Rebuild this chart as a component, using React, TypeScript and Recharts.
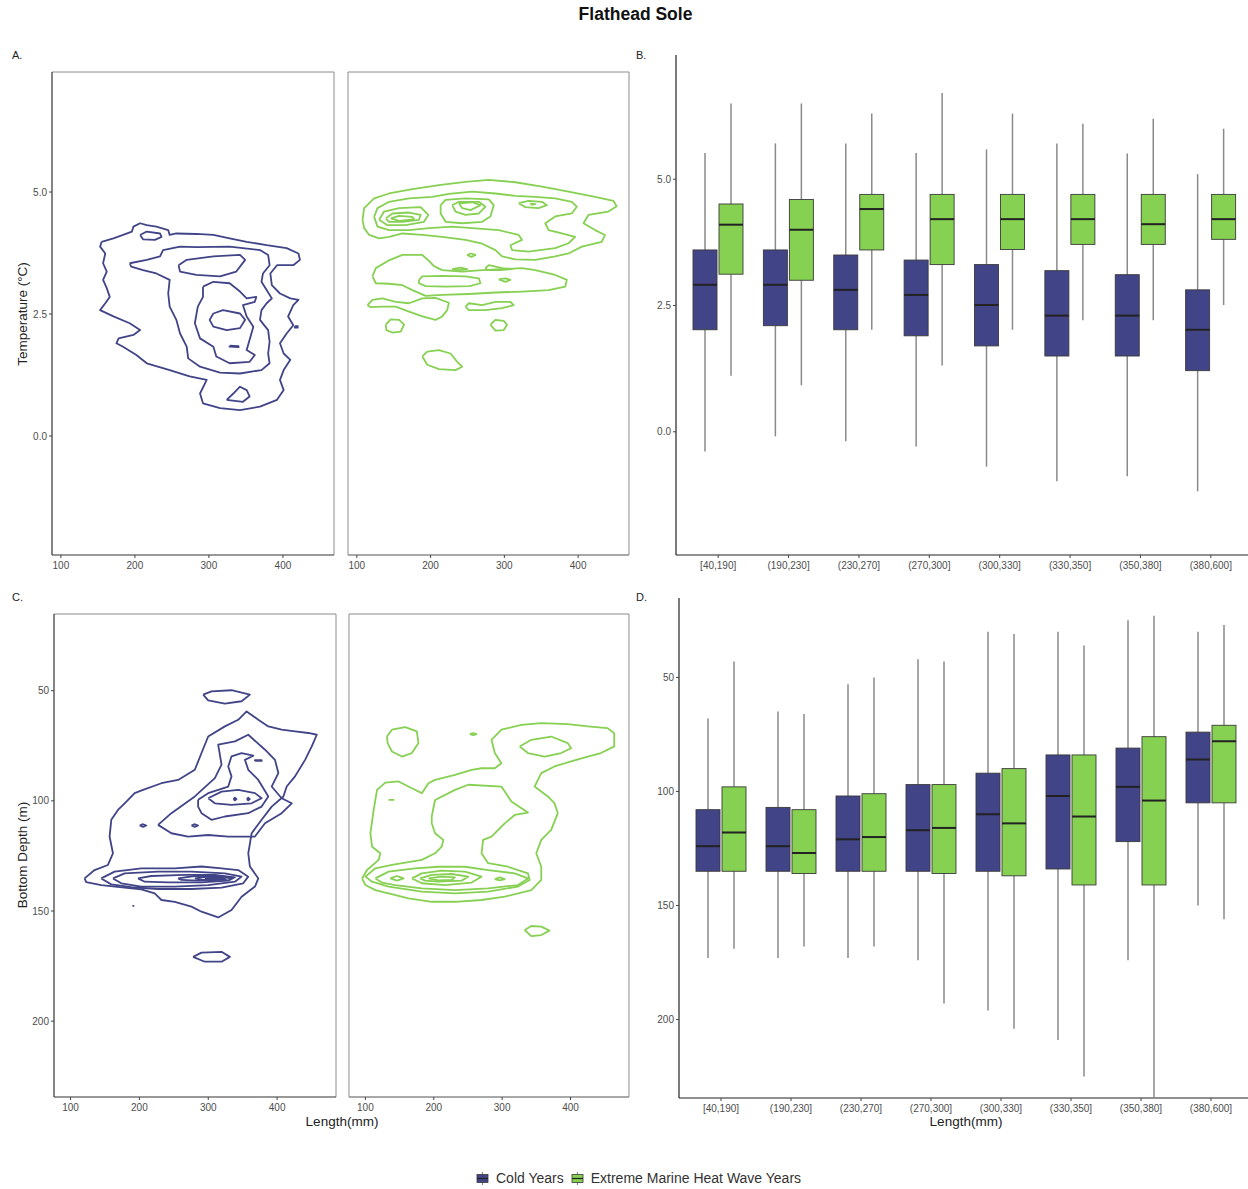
import React from 'react';
import { ComposedChart, Line, Bar, XAxis, YAxis, ReferenceLine } from 'recharts';

type Pt = [number, number];
type Box = [number, number, number, number, number]; // min, q1, median, q3, max

const BLUE = '#414487';
const GREEN = '#86D052';
const FONT = '"Liberation Sans", Arial, Helvetica, sans-serif';

const lengthTicks = [100, 200, 300, 400];
const tempTicks = [0, 2.5, 5];
const depthTicks = [50, 100, 150, 200];
const lengthBins = ['[40,190]', '(190,230]', '(230,270]', '(270,300]', '(300,330]', '(330,350]', '(350,380]', '(380,600]'];

const tempDomain: [number, number] = [-2.44, 7.46];
const depthDomain: [number, number] = [15.2, 234.4];
const lenDomainA: [number, number] = [88, 469];
const lenDomainC: [number, number] = [76, 485.5];

// ---- Panel A: temperature vs length density contours ----
const coldTempContours: Pt[][] = [
  [[155,3.98],[171,4.05],[184,4.12],[196,4.19],[198,4.29],[207,4.36],[216,4.32],[229,4.29],[245,4.22],[247,4.12],[256,4.15],[283,4.14],[306,4.12],[328,4.05],[351,3.98],[378,3.91],[405,3.85],[421,3.74],[423,3.61],[414,3.5],[392,3.5],[383,3.33],[385,3.09],[396,2.92],[410,2.82],[421,2.79],[414,2.68],[407,2.45],[414,2.27],[405,2.1],[396,1.9],[401,1.69],[410,1.56],[401,1.35],[396,1.15],[401,0.94],[392,0.74],[369,0.6],[342,0.53],[315,0.57],[292,0.67],[288,0.87],[297,1.15],[274,1.22],[247,1.35],[216,1.49],[202,1.66],[184,1.83],[175,1.9],[178,2.0],[198,2.07],[207,2.17],[193,2.31],[171,2.45],[153,2.58],[160,2.72],[166,2.85],[162,3.03],[157,3.2],[162,3.37],[157,3.54],[160,3.74],[153,3.88]],
  [[193,3.54],[216,3.61],[234,3.68],[238,3.81],[261,3.88],[283,3.87],[328,3.88],[369,3.81],[380,3.71],[382,3.5],[373,3.33],[371,3.16],[378,2.99],[385,2.82],[378,2.72],[371,2.58],[369,2.38],[380,2.17],[382,1.93],[380,1.69],[382,1.49],[371,1.35],[342,1.28],[315,1.3],[288,1.42],[272,1.59],[270,1.83],[261,2.1],[256,2.38],[247,2.65],[245,2.92],[247,3.2],[229,3.33],[211,3.4],[195,3.47]],
  [[259,3.5],[270,3.61],[306,3.68],[342,3.71],[349,3.61],[337,3.37],[315,3.27],[283,3.3],[261,3.37]],
  [[292,3.06],[306,3.16],[328,3.13],[342,2.96],[351,2.82],[364,2.85],[362,2.75],[346,2.68],[351,2.45],[360,2.24],[355,1.97],[351,1.76],[362,1.66],[355,1.52],[328,1.49],[310,1.63],[306,1.83],[288,2.0],[281,2.31],[285,2.65],[292,2.85]],
  [[306,2.51],[319,2.58],[342,2.51],[349,2.38],[342,2.21],[324,2.17],[306,2.24],[301,2.38]],
  [[207,4.12],[216,4.19],[234,4.15],[236,4.08],[227,4.02],[211,4.03]],
  [[324,0.74],[333,0.87],[342,1.01],[351,0.94],[355,0.81],[346,0.7]],
  [[328,1.85],[340,1.84],[340,1.82],[328,1.83]],
  [[416,2.25],[420,2.25],[420,2.22],[416,2.22]],
];

const warmTempContours: Pt[][] = [
  [[107.7,4.43],[109.9,4.67],[123.4,4.87],[143.7,4.97],[175.3,5.06],[211.3,5.14],[247.3,5.21],[278.9,5.25],[314.9,5.2],[351,5.11],[387,5.01],[423,4.9],[447.8,4.82],[452.3,4.71],[441,4.6],[414,4.53],[407.3,4.36],[423,4.22],[436.5,4.12],[432,3.98],[405,3.88],[387,3.74],[369,3.68],[341.9,3.61],[314.9,3.62],[296.9,3.68],[287.9,3.81],[269.9,3.94],[247.3,4.02],[215.8,4.08],[188.8,4.12],[161.8,4.15],[143.7,4.08],[130.2,4.05],[116.7,4.12],[109.9,4.26]],
  [[123.4,4.49],[128,4.67],[143.7,4.8],[170.8,4.87],[202.3,4.9],[224.8,4.96],[256.4,5.01],[287.9,4.97],[314.9,4.92],[341.9,4.9],[369,4.87],[391.5,4.8],[398.2,4.7],[391.5,4.56],[369,4.5],[355.5,4.36],[360,4.22],[378,4.15],[396,4.08],[387,3.95],[369,3.85],[332.9,3.78],[310.4,3.81],[308.2,3.91],[323.9,4.02],[319.4,4.12],[292.4,4.22],[256.4,4.26],[229.3,4.29],[197.8,4.26],[170.8,4.22],[143.7,4.22],[128,4.29]],
  [[130.2,4.43],[136.9,4.6],[157.3,4.67],[186.5,4.69],[196.9,4.53],[191,4.39],[166.3,4.32],[141.4,4.32]],
  [[139.2,4.46],[148.2,4.56],[170.8,4.58],[186.5,4.53],[184.3,4.43],[161.8,4.39],[143.7,4.39]],
  [[146,4.46],[157.3,4.51],[175.3,4.49],[177.5,4.44],[157.3,4.41]],
  [[213.6,4.73],[220.3,4.84],[247.3,4.87],[278.9,4.85],[285.6,4.73],[281.1,4.5],[269.9,4.39],[242.8,4.36],[220.3,4.39],[213.6,4.56]],
  [[229.3,4.73],[238.3,4.8],[265.4,4.8],[274.4,4.7],[265.4,4.56],[247.3,4.53],[233.8,4.6]],
  [[238.3,4.77],[256.4,4.79],[267.6,4.73],[254.1,4.63],[242.8,4.67]],
  [[319.4,4.77],[332.9,4.82],[351,4.8],[357.7,4.73],[346.4,4.67],[328.4,4.69]],
  [[335,4.76],[342,4.75],[338,4.74]],
  [[121.2,3.27],[125.7,3.44],[143.7,3.6],[161.8,3.71],[188.8,3.71],[197.8,3.59],[204.5,3.48],[215.8,3.4],[242.8,3.37],[269.9,3.4],[296.9,3.42],[323.9,3.44],[341.9,3.4],[369,3.3],[384.7,3.2],[382.5,3.06],[360,2.99],[323.9,2.96],[287.9,2.94],[251.9,2.91],[215.8,2.89],[193.3,2.87],[175.3,2.99],[161.8,3.09],[143.7,3.12],[125.7,3.13]],
  [[184.3,3.2],[188.8,3.27],[215.8,3.28],[247.3,3.27],[265.4,3.23],[267.6,3.13],[252.9,3.07],[220.3,3.06],[193.3,3.07],[184.3,3.13]],
  [[249.5,3.71],[254.1,3.74],[260.8,3.71],[255.4,3.67]],
  [[229.3,3.42],[240.5,3.45],[249.5,3.42],[239.2,3.4]],
  [[274.3,3.44],[278.9,3.5],[296.9,3.44],[310.4,3.42],[292.4,3.4],[276.6,3.4]],
  [[292.4,3.21],[301.4,3.23],[308.2,3.2],[301.4,3.16]],
  [[114.4,2.68],[121.2,2.79],[134.7,2.82],[152.7,2.75],[170.8,2.72],[188.8,2.82],[206.8,2.83],[224.8,2.73],[222.5,2.58],[215.8,2.45],[206.8,2.38],[188.8,2.45],[170.8,2.55],[152.7,2.65],[134.7,2.65],[118.9,2.64]],
  [[247.3,2.65],[251.9,2.72],[269.9,2.68],[287.9,2.75],[308.2,2.75],[312.6,2.68],[296.9,2.62],[274.3,2.58],[251.9,2.58]],
  [[139.2,2.28],[146,2.39],[157.3,2.38],[164,2.28],[159.5,2.14],[148.2,2.12],[140.1,2.17]],
  [[281.1,2.28],[287.9,2.38],[299.2,2.36],[303.6,2.28],[299.2,2.17],[287.9,2.16]],
  [[188.8,1.63],[195.5,1.73],[211.3,1.76],[227,1.69],[236,1.52],[242.8,1.42],[233.8,1.35],[211.3,1.37],[195.5,1.46]],
];

// ---- Panel C: bottom depth vs length density contours ----
const coldDepthContours: Pt[][] = [
  [[292.6,51.8],[304.7,50.3],[333.8,49.8],[360.5,51.8],[348.4,54.8],[324.1,55.9],[299.9,54.4]],
  [[120.4,135.2],[134.9,131.4],[154.3,129.1],[161.6,123.8],[156.7,116.2],[159.2,108.6],[168.9,104.1],[178.6,101.1],[193.1,96.5],[205.3,95],[232,92],[256.2,90.5],[280.5,85.9],[290.2,78.3],[299.9,70.8],[324.1,66.2],[343.5,63.2],[355.7,59.4],[372.7,63.2],[387.2,66.2],[406.6,67.7],[426,68.5],[445.4,69.2],[457.6,70],[450.3,75.3],[440.6,81.4],[426,88.9],[413.9,93.5],[409.1,98],[392.1,102.6],[377.5,108.6],[363,114.7],[358.1,123.8],[360.5,129.8],[372.7,135.2],[367.8,138.9],[348.4,143.5],[333.8,149.5],[314.4,152.9],[290.2,150.3],[275.6,148],[251.4,145.8],[232,145],[222.2,142],[202.8,140.2],[178.6,139.4],[144.6,138.2],[122.8,136.9]],
  [[227.1,110.9],[246.5,105.6],[280.5,98],[309.6,89.7],[319.3,83.6],[314.4,74.5],[338.7,73],[358.1,70],[382.4,76.8],[396.9,81.4],[401.8,87.4],[392.1,93.5],[406.6,98.8],[421.2,101.1],[406.6,105.6],[382.4,110.2],[367.8,116.2],[329,116.2],[299.9,115.5],[270.8,116.2],[246.5,114.7]],
  [[285.3,99.5],[299.9,96.5],[329,93.5],[333.8,88.9],[329,84.4],[333.8,79.8],[348.4,78.3],[365.4,79.5],[353.3,81.4],[358.1,85.9],[372.7,90.5],[387.2,98],[377.5,102.6],[358.1,105.6],[324.1,107.1],[304.7,108.6],[290.2,105.6],[285.3,102.6]],
  [[367.8,81.9],[377.5,81.9],[377.5,81.5],[367.8,81.5]],
  [[299.9,98.8],[319.3,95.8],[343.5,95],[367.8,96.5],[377.5,98.8],[363,101.1],[333.8,101.8],[309.6,101.1]],
  [[336.5,99.2],[338.7,98.6],[341,99.2],[338.7,99.8]],
  [[356,99.2],[358.1,98.6],[360.3,99.2],[358.1,99.8]],
  [[200.4,111.2],[205.3,110.6],[210.1,111.2],[205.3,111.8]],
  [[275.6,111.2],[280.5,110.6],[285.3,111.2],[280.5,111.8]],
  [[144.6,135.2],[164,132.1],[202.8,130.6],[251.4,130.6],[290.2,129.8],[319.3,130.6],[343.5,131.4],[358.1,134.4],[350.8,137.4],[319.3,139.4],[275.6,140],[227.1,140],[188.3,139.2],[159.2,137.9]],
  [[161.6,135.2],[178.6,132.9],[227.1,132.1],[275.6,132.1],[324.1,132.9],[348.4,134.4],[338.7,136.7],[299.9,138.2],[251.4,138.9],[202.8,138.9],[173.7,137.4]],
  [[198,135.2],[217.4,134.1],[265.9,133.6],[309.6,133.6],[338.7,134.7],[329,136.2],[290.2,137],[241.7,137],[207.7,136.7]],
  [[256.2,135.2],[280.5,134.1],[314.4,134.1],[333.8,135],[319.3,135.9],[285.3,136.2],[261.1,135.9]],
  [[280.5,135.2],[299.9,134.4],[319.3,134.7],[324.1,135.3],[309.6,135.9],[290.2,135.9]],
  [[295,135.2],[309.6,134.7],[319.3,135.2],[307.2,135.6]],
  [[278,170.8],[290.2,168.9],[319.3,168.5],[331.4,170.8],[319.3,173],[295,173]],
  [[189.9,147.7],[191.5,147.7]],
];

const warmDepthContours: Pt[][] = [
  [[95.1,135.2],[102.4,131.4],[119.4,126.8],[121.8,123.8],[109.7,120.8],[107.3,114.7],[112.1,104.1],[117,95],[129.1,91.7],[148.5,91.2],[167.9,94.3],[182.5,96.5],[192.2,92],[201.9,90.5],[231,88.2],[255.3,85.9],[269.8,85.2],[289.2,85.2],[298.9,82.9],[289.2,78.3],[284.4,72.3],[298.9,67.7],[328,65.5],[357.2,64.7],[396,65.2],[425.1,66.2],[454.2,67],[463.9,69.3],[463.9,75.3],[444.5,78.3],[425.1,79.9],[400.8,82.1],[376.6,84.4],[357.2,87.4],[347.4,93.5],[366.9,98],[376.6,101.1],[381.4,105.6],[371.7,113.2],[357.2,117.7],[349.9,123.8],[357.2,129.9],[357.2,135.9],[342.6,140.5],[303.8,143.5],[269.8,145],[231,145.8],[197,145.8],[163.1,144.3],[133.9,142],[114.5,140.5],[100,138.2]],
  [[197,107.1],[201.9,99.6],[231,95],[250.4,92.7],[298.9,93.5],[313.5,100.3],[337.7,105.3],[318.3,106.4],[303.8,110.2],[284.4,116.2],[272.2,117.7],[269.8,123.8],[279.5,128.3],[308.6,129.9],[337.7,132.9],[340.2,135.9],[323.2,138.9],[279.5,141.2],[231,142],[182.5,141.2],[133.9,138.9],[109.7,136.7],[100,134.4],[114.5,130.6],[138.8,129.1],[182.5,126.8],[201.9,123.8],[211.6,120.8],[214,117.7],[201.9,114.7],[197,110.2]],
  [[131.5,70.8],[138.8,67.7],[158.2,66.5],[175.2,68.5],[177.6,73.8],[167.9,78.3],[153.4,79.9],[138.8,77.6],[132.5,73.8]],
  [[252.8,69.7],[257.6,69.2],[262.5,69.7],[257.6,70.2]],
  [[133.9,99.6],[141.2,99.6]],
  [[325.6,75.3],[342.6,72.3],[371.7,70.8],[396,73.8],[400.8,76.1],[386.3,78.3],[362,79.9],[337.7,78.3]],
  [[114.5,135.2],[133.9,132.1],[172.8,130.6],[206.7,129.9],[245.6,129.9],[279.5,131.4],[318.3,132.9],[337.7,135.2],[323.2,138.2],[279.5,139.7],[231,140.5],[182.5,139.7],[143.7,138.2],[124.2,137.1]],
  [[136.4,135.2],[146.1,134.1],[155.8,135.2],[146.1,136.2]],
  [[167.9,135.2],[182.5,132.9],[211.6,131.7],[245.6,132.1],[269.8,134.4],[255.3,137.1],[216.5,138.2],[182.5,137.4]],
  [[180,135.2],[197,133.6],[226.2,133.2],[250.4,134.4],[240.7,136.2],[206.7,136.7],[187.3,136.2]],
  [[192.2,135.2],[211.6,134.4],[231,134.7],[226.2,135.9],[206.7,136.1]],
  [[289.2,135.5],[296.5,134.7],[303.8,135.5],[296.5,136.1]],
  [[332.9,158.6],[342.6,156.8],[357.2,157.1],[369.3,158.9],[357.2,160.9],[342.6,161.4]],
];

// ---- Panel B / D: boxplot summaries per length bin [min, q1, median, q3, max] ----
const coldTempBoxes: Box[] = [
  [-0.39, 2.02, 2.91, 3.6, 5.52],
  [-0.09, 2.1, 2.91, 3.6, 5.71],
  [-0.19, 2.02, 2.81, 3.5, 5.71],
  [-0.29, 1.9, 2.71, 3.4, 5.52],
  [-0.69, 1.7, 2.51, 3.31, 5.59],
  [-0.98, 1.5, 2.3, 3.19, 5.71],
  [-0.88, 1.5, 2.3, 3.11, 5.51],
  [-1.18, 1.21, 2.02, 2.81, 5.1],
];
const warmTempBoxes: Box[] = [
  [1.11, 3.12, 4.1, 4.51, 6.5],
  [0.92, 3.0, 4.0, 4.6, 6.5],
  [2.02, 3.6, 4.41, 4.7, 6.3],
  [1.31, 3.31, 4.21, 4.7, 6.71],
  [2.02, 3.61, 4.21, 4.7, 6.3],
  [2.21, 3.71, 4.21, 4.7, 6.1],
  [2.21, 3.71, 4.11, 4.7, 6.2],
  [2.51, 3.81, 4.21, 4.7, 6.0],
];
const coldDepthBoxes: Box[] = [
  [68, 108, 124, 135, 173],
  [65, 107, 124, 135, 173],
  [53, 102, 121, 135, 173],
  [42, 97, 117, 135, 174],
  [30, 92, 110, 135, 196],
  [30, 84, 102, 134, 209],
  [25, 81, 98, 122, 174],
  [30, 74, 86, 105, 150],
];
const warmDepthBoxes: Box[] = [
  [43, 98, 118, 135, 169],
  [66, 108, 127, 136, 168],
  [50, 101, 120, 135, 168],
  [43, 97, 116, 136, 193],
  [31, 90, 114, 137, 204],
  [36, 84, 111, 141, 225],
  [23, 76, 104, 141, 234],
  [27, 71, 78, 105, 156],
];

const toRing = (pts: Pt[]) => [...pts, pts[0]].map(([x, y]) => ({ x, y }));
const buildRows = (cold: Box[], warm: Box[]) =>
  lengthBins.map((bin, i) => ({
    bin,
    cold: cold[i],
    warm: warm[i],
    coldBox: [cold[i][1], cold[i][3]],
    warmBox: [warm[i][1], warm[i][3]],
  }));

const tickStyle = { fontSize: 10, fill: '#4d4d4d' };

function BoxShape(props: any) {
  const { x, y, width, height, payload, fill, statKey } = props;
  const s: Box = payload[statKey];
  const [mn, q1, md, q3, mx] = s;
  const pQ3 = y;
  const pQ1 = y + height;
  const py = (v: number) => pQ1 + ((v - q1) * (pQ3 - pQ1)) / (q3 - q1);
  const cx = x + width / 2;
  const top = Math.min(pQ1, pQ3);
  return (
    <g>
      <line x1={cx} x2={cx} y1={py(mx)} y2={pQ3} stroke="#8a8a8a" strokeWidth={1.5} />
      <line x1={cx} x2={cx} y1={pQ1} y2={py(mn)} stroke="#8a8a8a" strokeWidth={1.5} />
      <rect x={x} y={top} width={width} height={Math.abs(height)} fill={fill} stroke="#3a3a3a" strokeWidth={0.9} />
      <line x1={x} x2={x + width} y1={py(md)} y2={py(md)} stroke="#222" strokeWidth={2} />
    </g>
  );
}

function ContourPanel(props: {
  rings: Pt[][];
  color: string;
  left: number;
  top: number;
  width: number;
  height: number;
  marginLeft: number;
  showY: boolean;
  yAxisWidth: number;
  xDomain: [number, number];
  yDomain: [number, number];
  yTicks: number[];
  reversed: boolean;
  fmt: (v: number) => string;
}) {
  const { rings, color, left, top, width, height, marginLeft, showY, yAxisWidth, xDomain, yDomain, yTicks, reversed, fmt } = props;
  const frame = '#8c8c8c';
  const yTop = reversed ? yDomain[0] : yDomain[1];
  const yBottom = reversed ? yDomain[1] : yDomain[0];
  return (
    <div style={{ position: 'absolute', left, top }}>
      <ComposedChart width={width} height={height} margin={{ top: 10, right: 2, bottom: 0, left: marginLeft }}>
        <XAxis
          type="number"
          dataKey="x"
          domain={xDomain}
          ticks={lengthTicks}
          allowDataOverflow
          interval={0}
          height={30}
          tickSize={3}
          tickMargin={4}
          tick={tickStyle}
          axisLine={{ stroke: showY ? '#333' : frame, strokeWidth: showY ? 1.2 : 1 }}
          tickLine={{ stroke: '#444' }}
        />
        <YAxis
          type="number"
          domain={yDomain}
          reversed={reversed}
          hide={!showY}
          width={yAxisWidth}
          ticks={yTicks}
          tickFormatter={fmt}
          allowDataOverflow
          interval={0}
          tickSize={3}
          tick={tickStyle}
          axisLine={{ stroke: '#333', strokeWidth: 1.2 }}
          tickLine={{ stroke: '#444' }}
        />
        <ReferenceLine y={yTop} stroke={frame} ifOverflow="visible" />
        <ReferenceLine x={xDomain[1]} stroke={frame} ifOverflow="visible" />
        {!showY && <ReferenceLine x={xDomain[0]} stroke={frame} ifOverflow="visible" />}
        {!showY && <ReferenceLine y={yBottom} stroke={frame} ifOverflow="visible" />}
        {rings.map((r, i) => (
          <Line
            key={i}
            data={toRing(r)}
            dataKey="y"
            type="linear"
            stroke={color}
            strokeWidth={1.8}
            strokeLinejoin="round"
            dot={false}
            activeDot={false}
            isAnimationActive={false}
          />
        ))}
      </ComposedChart>
    </div>
  );
}

function BoxPanel(props: {
  cold: Box[];
  warm: Box[];
  left: number;
  top: number;
  yAxisWidth: number;
  yDomain: [number, number];
  yTicks: number[];
  reversed: boolean;
  fmt: (v: number) => string;
}) {
  const { cold, warm, left, top, yAxisWidth, yDomain, yTicks, reversed, fmt } = props;
  const rows = buildRows(cold, warm);
  const width = 1253 - left + 2;
  return (
    <div style={{ position: 'absolute', left, top }}>
      <ComposedChart width={width} height={540} data={rows} margin={{ top: 10, right: 2, bottom: 0, left: 0 }} barGap={2}>
        <XAxis
          dataKey="bin"
          type="category"
          padding={{ left: 7, right: 7 }}
          interval={0}
          height={30}
          tickSize={3}
          tickMargin={4}
          tick={tickStyle}
          axisLine={{ stroke: '#222', strokeWidth: 1.2 }}
          tickLine={{ stroke: '#444' }}
        />
        <YAxis
          type="number"
          domain={yDomain}
          reversed={reversed}
          width={yAxisWidth}
          ticks={yTicks}
          tickFormatter={fmt}
          allowDataOverflow
          interval={0}
          tickSize={3}
          tick={tickStyle}
          axisLine={{ stroke: '#222', strokeWidth: 1.2 }}
          tickLine={{ stroke: '#444' }}
        />
        <Bar dataKey="coldBox" barSize={24} fill={BLUE} isAnimationActive={false} shape={(p: any) => <BoxShape {...p} statKey="cold" />} />
        <Bar dataKey="warmBox" barSize={24} fill={GREEN} isAnimationActive={false} shape={(p: any) => <BoxShape {...p} statKey="warm" />} />
      </ComposedChart>
    </div>
  );
}

const fmt1 = (v: number) => v.toFixed(1);
const fmt0 = (v: number) => String(v);

function LegendKey({ color }: { color: string }) {
  return (
    <svg width={13} height={13} style={{ display: 'block' }}>
      <line x1={6.5} x2={6.5} y1={0} y2={13} stroke="#8a8a8a" strokeWidth={1.2} />
      <rect x={1} y={2.5} width={11} height={8} fill={color} stroke="#3a3a3a" strokeWidth={0.8} />
      <line x1={1} x2={12} y1={6.5} y2={6.5} stroke="#222" strokeWidth={1.2} />
    </svg>
  );
}

const labelStyle: React.CSSProperties = { position: 'absolute', fontSize: 11, color: '#222' };
const titleStyle: React.CSSProperties = { position: 'absolute', fontSize: 13.5, color: '#222', whiteSpace: 'nowrap' };

export default function App() {
  return (
    <div
      style={{
        position: 'absolute',
        left: 0,
        top: 0,
        width: 1248,
        height: 1189,
        overflow: 'hidden',
        background: '#fff',
        fontFamily: FONT,
      }}
    >
      <div style={{ position: 'absolute', left: 635.5, top: 4, transform: 'translateX(-50%)', fontSize: 17.5, fontWeight: 'bold', color: '#111', whiteSpace: 'nowrap' }}>
        Flathead Sole
      </div>

      <div style={{ ...labelStyle, left: 12, top: 49 }}>A.</div>
      <div style={{ ...labelStyle, left: 636, top: 49 }}>B.</div>
      <div style={{ ...labelStyle, left: 12, top: 591 }}>C.</div>
      <div style={{ ...labelStyle, left: 636, top: 591 }}>D.</div>

      <div style={{ ...titleStyle, left: 22, top: 314, transform: 'translate(-50%, -50%) rotate(-90deg)' }}>
        Temperature (°C)
      </div>
      <div style={{ ...titleStyle, left: 22, top: 855, transform: 'translate(-50%, -50%) rotate(-90deg)' }}>
        Bottom Depth (m)
      </div>
      <div style={{ ...titleStyle, left: 342, top: 1121, transform: 'translate(-50%, -50%)' }}>
        Length(mm)
      </div>
      <div style={{ ...titleStyle, left: 966, top: 1121, transform: 'translate(-50%, -50%)' }}>
        Length(mm)
      </div>

      {/* A */}
      <ContourPanel rings={coldTempContours} color={BLUE} left={0} top={62} width={336} height={523} marginLeft={0} showY yAxisWidth={52}
        xDomain={lenDomainA} yDomain={tempDomain} yTicks={tempTicks} reversed={false} fmt={fmt1} />
      <ContourPanel rings={warmTempContours} color={GREEN} left={340} top={62} width={291} height={523} marginLeft={8} showY={false} yAxisWidth={0}
        xDomain={lenDomainA} yDomain={tempDomain} yTicks={tempTicks} reversed={false} fmt={fmt1} />

      {/* B */}
      <BoxPanel cold={coldTempBoxes} warm={warmTempBoxes} left={620} top={45} yAxisWidth={56} yDomain={tempDomain} yTicks={tempTicks} reversed={false} fmt={fmt1} />

      {/* C */}
      <ContourPanel rings={coldDepthContours} color={BLUE} left={0} top={604} width={338} height={523} marginLeft={0} showY yAxisWidth={54}
        xDomain={lenDomainC} yDomain={depthDomain} yTicks={depthTicks} reversed fmt={fmt0} />
      <ContourPanel rings={warmDepthContours} color={GREEN} left={341} top={604} width={290} height={523} marginLeft={8} showY={false} yAxisWidth={0}
        xDomain={lenDomainC} yDomain={depthDomain} yTicks={depthTicks} reversed fmt={fmt0} />

      {/* D */}
      <BoxPanel cold={coldDepthBoxes} warm={warmDepthBoxes} left={620} top={588} yAxisWidth={59} yDomain={depthDomain} yTicks={depthTicks} reversed fmt={fmt0} />

      {/* Legend */}
      <div style={{ position: 'absolute', left: 476, top: 1170, display: 'flex', alignItems: 'center', fontSize: 14, color: '#333', whiteSpace: 'nowrap' }}>
        <LegendKey color={BLUE} />
        <span style={{ marginLeft: 7, marginRight: 7 }}>Cold Years</span>
        <LegendKey color={GREEN} />
        <span style={{ marginLeft: 7 }}>Extreme Marine Heat Wave Years</span>
      </div>
    </div>
  );
}
